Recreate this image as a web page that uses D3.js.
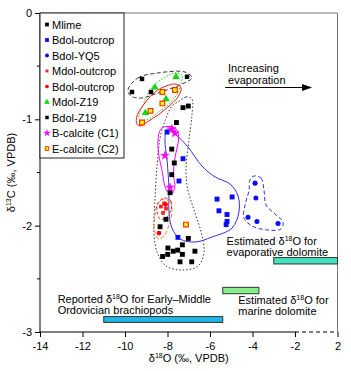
<!DOCTYPE html>
<html>
<head>
<meta charset="utf-8">
<script src="https://cdn.jsdelivr.net/npm/d3@7"></script>
<style>
  body { margin: 0; background: #fff; }
  svg { display: block; font-family: Arial, 'Liberation Sans', sans-serif; }
</style>
</head>
<body>
<div id="chart"></div>
<script>
// tick labels
const xTicks = [-14, -12, -10, -8, -6, -4, -2, 2]
const yTicks = [0, -1, -2, -3]
const yMinor = [-0.5, -1.5, -2.5]

const legendLabels = ['Mlime', 'Bdol-outcrop', 'Bdol-YQ5', 'Mdol-outcrop', 'Bdol-outcrop',
    'Mdol-Z19', 'Bdol-Z19', 'B-calcite (C1)', 'E-calcite (C2)']

// [δ18O, δ13C]
const mlime = [[-7.02, -0.875], [-7.27, -0.89], [-7.58, -1.03], [-7.80, -1.28], [-7.68, -1.41],
    [-7.80, -1.52], [-7.88, -1.69], [-8.07, -1.94], [-8.35, -2.01], [-7.98, -2.21], [-7.99, -2.27],
    [-8.23, -2.29], [-7.73, -2.24], [-7.52, -2.23], [-7.30, -2.18], [-7.30, -2.27], [-7.02, -2.12],
    [-6.71, -2.24], [-7.41, -2.34], [-6.86, -2.34]]
const bdolOutcrop = [[-8.02, -1.12], [-7.27, -1.37], [-7.46, -1.58], [-7.51, -2.11], [-5.67, -1.75],
    [-4.96, -1.73], [-5.58, -1.86], [-5.20, -1.895], [-5.20, -1.96], [-5.24, -1.99]]
const bdolYQ5 = [[-3.88, -1.60], [-3.84, -1.74], [-4.21, -1.92], [-3.79, -1.96], [-2.80, -1.98]]
const mdolOutcrop = [[-8.16, -1.79], [-8.31, -1.82], [-8.07, -1.84], [-8.21, -1.88]]
const bdolOutcropRed = [[-8.40, -2.07], [-8.09, -1.80]]
const mdolZ19 = [[-7.60, -0.60], [-8.59, -0.70], [-8.07, -0.81], [-9.04, -0.94]]
const bdolZ19 = [[-9.67, -0.743], [-9.20, -0.62], [-8.78, -0.743], [-7.08, -0.60]]
const bCalcite = [[-7.80, -1.09], [-7.65, -1.13], [-8.12, -1.34], [-7.88, -1.64]]
const eCalcite = [[-8.24, -0.743], [-7.65, -0.724], [-8.24, -0.85], [-8.80, -0.92], [-9.20, -1.03], [-7.13, -1.99]]

// hand-drawn group envelopes
const bdolZ19Env = [[-9.86, -0.724], [-9.39, -0.61], [-8.45, -0.564], [-7.18, -0.555], [-6.85, -0.61],
    [-7.32, -0.668], [-8.45, -0.752], [-9.25, -0.80], [-9.72, -0.78]]
const mdolZ19Env = [[-9.34, -1.0], [-9.11, -0.846], [-8.73, -0.696], [-8.16, -0.61], [-7.65, -0.564],
    [-7.32, -0.583], [-7.36, -0.658], [-7.55, -0.762], [-7.88, -0.846], [-8.35, -0.92], [-8.92, -1.0]]
const eCalciteEnv = [[-9.44, -1.044], [-9.44, -0.97], [-9.06, -0.846], [-8.59, -0.743], [-8.07, -0.687],
    [-7.60, -0.668], [-7.36, -0.705], [-7.51, -0.79], [-7.98, -0.884], [-8.45, -0.96], [-8.96, -1.025],
    [-9.29, -1.063]]
const mlimeEnv = [[-7.51, -0.837], [-7.13, -0.79], [-6.85, -0.809], [-6.85, -0.959], [-6.99, -1.194],
    [-7.13, -1.476], [-7.04, -1.665], [-6.75, -1.853], [-6.42, -2.06], [-6.28, -2.248], [-6.56, -2.379],
    [-7.32, -2.417], [-8.07, -2.379], [-8.49, -2.248], [-8.64, -2.06], [-8.59, -1.759], [-8.49, -1.43],
    [-8.35, -1.176], [-8.07, -0.987], [-7.79, -0.875]]
const bCalciteEnv = [[-7.88, -1.067], [-7.55, -1.10], [-7.48, -1.185], [-7.65, -1.364], [-7.72, -1.524],
    [-7.65, -1.636], [-7.81, -1.702], [-8.05, -1.665], [-8.28, -1.458], [-8.43, -1.307], [-8.42, -1.147],
    [-8.26, -1.082]]
const bdolOutcropEnv = [[-8.02, -1.091], [-7.69, -1.129], [-7.04, -1.26], [-6.38, -1.439], [-5.76, -1.542],
    [-5.06, -1.608], [-4.68, -1.721], [-4.64, -1.872], [-4.96, -2.022], [-5.91, -2.107], [-6.71, -2.154],
    [-7.41, -2.125], [-7.79, -2.022], [-7.93, -1.872], [-7.93, -1.665], [-8.02, -1.383], [-8.12, -1.194]]
const bdolYQ5Env = [[-3.93, -1.533], [-3.60, -1.552], [-3.46, -1.665], [-3.36, -1.806], [-2.94, -1.89],
    [-2.56, -1.966], [-2.66, -2.031], [-3.27, -2.041], [-4.02, -2.003], [-4.40, -1.928], [-4.35, -1.806],
    [-4.16, -1.665], [-4.12, -1.57]]
const outcropEnvOrange = [[-8.21, -1.749], [-7.88, -1.777], [-7.79, -1.872], [-7.93, -1.994], [-8.16, -2.097],
    [-8.40, -2.125], [-8.59, -2.069], [-8.59, -1.90], [-8.49, -1.806]]
const outcropEnvRed = [[-8.12, -1.74], [-7.84, -1.768], [-7.84, -1.853], [-8.07, -1.928], [-8.35, -1.937],
    [-8.49, -1.871], [-8.45, -1.787]]

// reference ranges [x0, x1, yTop, yBottom]
const evapRange = [-3.0, 2, -2.30, -2.36]
const marineRange = [-5.4, -3.7, -2.58, -2.64]
const brachRange = [-11.0, -5.4, -2.855, -2.91]

const W = 351, H = 371
const svg = d3.select('#chart').append('svg').attr('width', W).attr('height', H)

const x = d3.scaleLinear().domain([-14, -2, 2]).range([40, 295, 337.5])
const y = d3.scaleLinear().domain([-3, 0]).range([332, 13])
const x0 = x.range()[0], x1 = x.range()[2], yT = y.range()[1], yB = y.range()[0]

// frame
svg.append('line').attr('x1', x0).attr('x2', x1).attr('y1', yT).attr('y2', yT).attr('stroke', '#777')
svg.append('line').attr('x1', x1).attr('x2', x1).attr('y1', yT).attr('y2', yB).attr('stroke', '#777')
svg.append('line').attr('x1', x0).attr('x2', x0).attr('y1', yT).attr('y2', yB).attr('stroke', '#000')
svg.append('line').attr('x1', x0).attr('x2', x(-2)).attr('y1', yB).attr('y2', yB).attr('stroke', '#000')
svg.append('line').attr('x1', x(-2)).attr('x2', x1).attr('y1', yB).attr('y2', yB)
    .attr('stroke', '#000').attr('stroke-dasharray', '4,3')

const xAxis = svg.append('g').attr('transform', `translate(0,${yB})`)
    .call(d3.axisBottom(x).tickValues(xTicks).tickSize(5).tickFormat(d => String(d)))
xAxis.select('.domain').remove()
xAxis.selectAll('text').attr('font-size', '11px').attr('fill', '#000').attr('font-family', null).attr('dy', '0.95em')

const yAxis = svg.append('g').attr('transform', `translate(${x0},0)`)
    .call(d3.axisLeft(y).tickValues(yTicks).tickSize(5).tickFormat(d => String(d)))
yAxis.select('.domain').remove()
yAxis.selectAll('text').attr('font-size', '11px').attr('fill', '#000').attr('font-family', null)

svg.append('g').selectAll('line').data(yMinor).enter().append('line')
    .attr('x1', x0 - 3).attr('x2', x0).attr('y1', d => y(d)).attr('y2', d => y(d)).attr('stroke', '#000')

// text with superscripts: parts = [[text, isSup], ...]
function richText(g, px, py, parts, opts = {}) {
    const t = g.append('text').attr('x', px).attr('y', py).attr('font-size', '11px').attr('fill', '#000')
    if (opts.anchor) t.attr('text-anchor', opts.anchor)
    if (opts.transform) t.attr('transform', opts.transform)
    let shifted = false
    parts.forEach(([s, sup]) => {
        const ts = t.append('tspan').text(s)
        if (sup) { ts.attr('font-size', '7px').attr('dy', -4); shifted = true }
        else if (shifted) { ts.attr('dy', 4); shifted = false }
    })
    return t
}

richText(svg, (x0 + x1) / 2, 362, [['δ'], ['18', 1], ['O (‰, VPDB)']], { anchor: 'middle' })
richText(svg, 0, 0, [['δ'], ['13', 1], ['C (‰, VPDB)']],
    { anchor: 'middle', transform: `translate(15,${(yT + yB) / 2}) rotate(-90)` })

// envelopes
const closed = d3.line().x(d => x(d[0])).y(d => y(d[1])).curve(d3.curveCatmullRomClosed.alpha(0.5))
const envs = [
    [bdolZ19Env, '#333', '4,2.5'],
    [mdolZ19Env, '#22cc22', '1.5,1.5'],
    [eCalciteEnv, '#ee1c1c', null],
    [mlimeEnv, '#333', '1.5,2'],
    [bdolOutcropEnv, '#3030e0', null],
    [bCalciteEnv, '#ff00ff', null],
    [bdolYQ5Env, '#3030e0', '4,2.5'],
    [outcropEnvOrange, '#f08a30', '4,2'],
    [outcropEnvRed, '#ee1c1c', '3,2']
]
svg.append('g').selectAll('path').data(envs).enter().append('path')
    .attr('d', d => closed(d[0]))
    .attr('fill', 'none')
    .attr('stroke', d => d[1])
    .attr('stroke-width', 1)
    .attr('stroke-dasharray', d => d[2])

// point series
const series = [
    { data: mlime, type: d3.symbolSquare, size: 24, fill: '#000', stroke: 'none' },
    { data: bdolOutcrop, type: d3.symbolSquare, size: 24, fill: '#0a0aff', stroke: 'none' },
    { data: bdolYQ5, type: d3.symbolCircle, size: 20, fill: '#0a0aff', stroke: 'none' },
    { data: mdolOutcrop, type: d3.symbolSquare, size: 14, fill: '#ff2020', stroke: 'none' },
    { data: bdolOutcropRed, type: d3.symbolCircle, size: 18, fill: '#ff0000', stroke: 'none' },
    { data: mdolZ19, type: d3.symbolTriangle, size: 24, fill: '#00dd00', stroke: 'none' },
    { data: bdolZ19, type: d3.symbolSquare, size: 20, fill: '#000', stroke: 'none' },
    { data: bCalcite, type: d3.symbolStar, size: 30, fill: '#ff00ff', stroke: 'none' },
    { data: eCalcite, type: d3.symbolSquare, size: 22, fill: '#ffff00', stroke: '#ff3000' }
]
series.forEach(s => {
    svg.append('g').selectAll('path').data(s.data).enter().append('path')
        .attr('transform', d => `translate(${x(d[0])},${y(d[1])})`)
        .attr('d', d3.symbol().type(s.type).size(s.size))
        .attr('fill', s.fill)
        .attr('stroke', s.stroke)
        .attr('stroke-width', 1.2)
})

// reference bars
const bars = [[evapRange, '#44e2bc'], [marineRange, '#86f08a'], [brachRange, '#1fb6e8']]
svg.append('g').selectAll('rect').data(bars).enter().append('rect')
    .attr('x', d => x(d[0][0]))
    .attr('y', d => y(d[0][2]))
    .attr('width', d => x(d[0][1]) - x(d[0][0]))
    .attr('height', d => y(d[0][3]) - y(d[0][2]))
    .attr('fill', d => d[1])
    .attr('stroke', '#333')
    .attr('stroke-width', 1)

richText(svg, x(-5.22), 245, [['Estimated δ'], ['18', 1], ['O for']])
richText(svg, x(-5.22), 256, [['evaporative dolomite']])
richText(svg, x(-4.67), 304, [['Estimated δ'], ['18', 1], ['O for']])
richText(svg, x(-4.67), 315, [['marine dolomite']])
richText(svg, x(-13.17), 303, [['Reported δ'], ['18', 1], ['O for Early\u2013Middle']])
richText(svg, x(-13.17), 314, [['Ordovician brachiopods']])

// evaporation arrow
richText(svg, x(-5.15), 72, [['Increasing']])
richText(svg, x(-5.15), 84, [['evaporation']])
const ay = 87.5, ax0 = x(-5.29), ax1 = x(-0.4)
svg.append('line').attr('x1', ax0).attr('x2', ax1 - 8).attr('y1', ay).attr('y2', ay).attr('stroke', '#000')
svg.append('path').attr('d', `M${ax1},${ay}L${ax1 - 10},${ay - 3.5}L${ax1 - 10},${ay + 3.5}Z`).attr('fill', '#000')

// legend
const legend = svg.append('g')
legend.append('rect').attr('x', x0).attr('y', yT).attr('width', 84).attr('height', 145)
    .attr('fill', '#fff').attr('stroke', '#222')
legendLabels.forEach((lab, i) => {
    const s = series[i]
    const cy = yT + 11.5 + i * 15.5
    legend.append('path')
        .attr('transform', `translate(${x0 + 7},${cy})`)
        .attr('d', d3.symbol().type(s.type).size(s.size * 0.6))
        .attr('fill', s.fill).attr('stroke', s.stroke).attr('stroke-width', 1)
    legend.append('text').attr('x', x0 + 12).attr('y', cy + 4)
        .attr('font-size', '11px').attr('fill', '#000').text(lab)
})
</script>
</body>
</html>
